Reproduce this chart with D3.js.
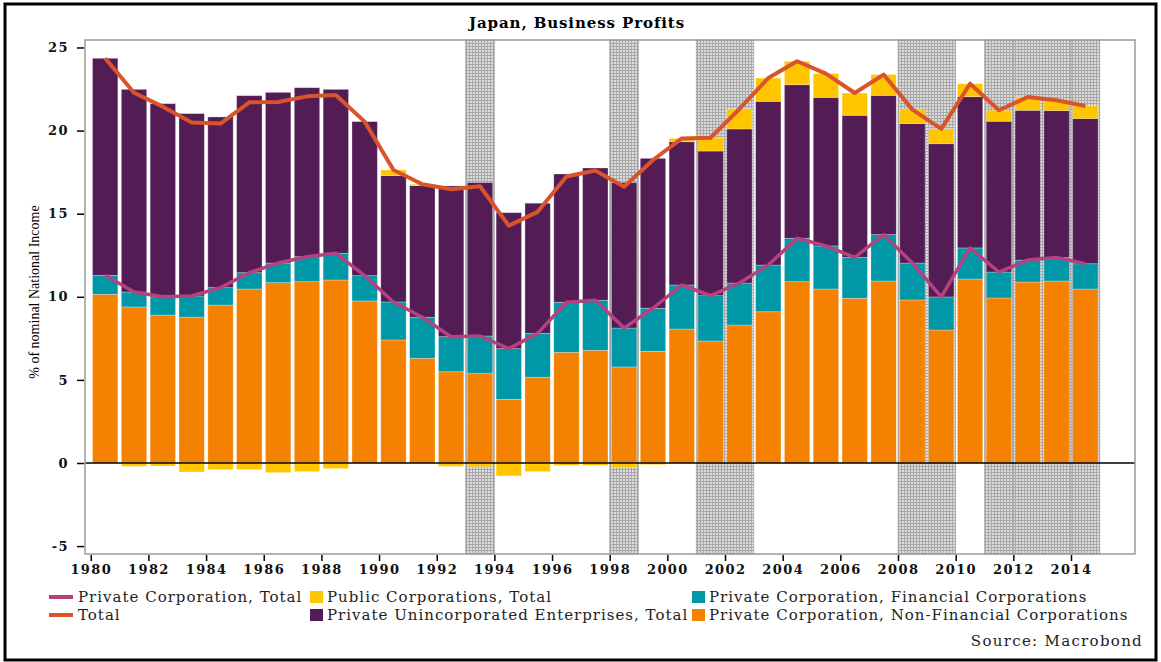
<!DOCTYPE html>
<html>
<head>
<meta charset="utf-8">
<script src="https://cdn.jsdelivr.net/npm/d3@7"></script>
<style>
  body { margin: 0; background: #fff; }
  text { font-family: 'DejaVu Serif', serif; }
</style>
</head>
<body>
<div id="chart"></div>
<script>
// values, % of nominal national income
let years = d3.range(1980, 2015)

let nonFinancial = [10.15, 9.39, 8.9, 8.78, 9.5, 10.47, 10.85, 10.91, 11.01, 9.75,
  7.4, 6.3, 5.49, 5.4, 3.83, 5.16, 6.66, 6.78, 5.78, 6.72,
  8.06, 7.34, 8.3, 9.1, 10.91, 10.47, 9.91, 10.95, 9.81, 8.0,
  11.07, 9.93, 10.89, 10.95, 10.47]
let financial = [1.14, 0.9, 1.1, 1.27, 1.05, 0.98, 1.18, 1.5, 1.61, 1.52,
  2.29, 2.47, 2.11, 2.24, 3.05, 2.64, 3.01, 3.01, 2.34, 2.59,
  2.65, 2.73, 2.53, 2.81, 2.61, 2.59, 2.46, 2.79, 2.22, 1.99,
  1.87, 1.56, 1.32, 1.42, 1.52]
let unincorporated = [13.06, 12.19, 11.62, 10.97, 10.27, 10.65, 10.27, 10.17, 9.86, 9.27,
  7.6, 7.92, 9.07, 9.23, 8.18, 7.83, 7.72, 7.96, 8.75, 9.02,
  8.62, 8.7, 9.27, 9.85, 9.24, 8.94, 8.55, 8.38, 8.39, 9.22,
  9.1, 9.07, 9.01, 8.83, 8.73]
let publicCorp = [0, -0.2, -0.18, -0.54, -0.4, -0.4, -0.58, -0.52, -0.34, 0,
  0.34, 0.08, -0.2, -0.22, -0.78, -0.52, -0.15, -0.15, -0.25, -0.1,
  0.2, 0.8, 1.2, 1.4, 1.41, 1.43, 1.34, 1.25, 0.84, 0.89,
  0.78, 0.66, 0.8, 0.62, 0.76]
let privateTotal = [11.29, 10.29, 10.0, 10.05, 10.55, 11.45, 12.03, 12.41, 12.62, 11.27,
  9.69, 8.77, 7.6, 7.64, 6.88, 7.8, 9.67, 9.79, 8.12, 9.31,
  10.71, 10.07, 10.83, 11.91, 13.52, 13.06, 12.37, 13.74, 12.03, 9.99,
  12.94, 11.49, 12.21, 12.37, 11.99]
let total = [24.35, 22.28, 21.44, 20.48, 20.42, 21.7, 21.72, 22.06, 22.14, 20.54,
  17.63, 16.77, 16.47, 16.65, 14.28, 15.11, 17.24, 17.6, 16.62, 18.23,
  19.53, 19.57, 21.3, 23.16, 24.17, 23.43, 22.26, 23.37, 21.26, 20.1,
  22.82, 21.22, 22.02, 21.82, 21.48]

// shaded periods
let bandStart = [1993, 1998, 2001, 2008, 2011, 2012, 2014]
let bandEnd = [1994, 1999, 2003, 2010, 2012, 2014, 2015]

let yTicks = [-5, 0, 5, 10, 15, 20, 25]
let xTicks = d3.range(1980, 2015, 2)

let seriesKeys = ["nonFin", "fin", "uninc", "pub"]
let seriesColor = {
  nonFin: "#F48200",
  fin: "#0097A7",
  uninc: "#541C55",
  pub: "#FFC600"
}

let rows = years.map(function (y, i) {
  return { year: y, nonFin: nonFinancial[i], fin: financial[i], uninc: unincorporated[i], pub: publicCorp[i] }
})

let W = 1161, H = 662
let margin = { top: 40, left: 85 },
  width = 1050,
  height = 514

let svg = d3.select("#chart")
  .append("svg")
  .attr("width", W)
  .attr("height", H)

// outer frame
svg.append("rect")
  .attr("x", 5).attr("y", 4)
  .attr("width", W - 10).attr("height", H - 6)
  .attr("fill", "none")
  .attr("stroke", "#000")
  .attr("stroke-width", 3)

svg.append("text")
  .attr("x", 577).attr("y", 28)
  .attr("text-anchor", "middle")
  .attr("font-weight", "bold")
  .attr("font-size", 15)
  .attr("letter-spacing", 0.9)
  .text("Japan, Business Profits")

let defs = svg.append("defs")
let pat = defs.append("pattern")
  .attr("id", "hatch")
  .attr("width", 3).attr("height", 3)
  .attr("patternUnits", "userSpaceOnUse")
pat.append("rect").attr("width", 3).attr("height", 3).attr("fill", "#dcdcdc")
pat.append("rect").attr("width", 3).attr("height", 1).attr("fill", "#a8a8a8")
pat.append("rect").attr("width", 1).attr("height", 3).attr("fill", "#a8a8a8")

let g = svg.append("g")
  .attr("transform", "translate(" + margin.left + "," + margin.top + ")")

let xScale = d3.scaleLinear()
  .domain([1979.8, 2016.22])
  .range([0, width])
let yScale = d3.scaleLinear()
  .domain([-5.475, 25.45])
  .range([height, 0])

// recession bands
g.selectAll(".band")
  .data(bandStart)
  .enter()
  .append("rect")
  .attr("class", "band")
  .attr("x", function (d) { return xScale(d) })
  .attr("width", function (d, i) { return xScale(bandEnd[i]) - xScale(d) })
  .attr("y", 0)
  .attr("height", height)
  .attr("fill", "url(#hatch)")
  .attr("stroke", "#9a9a9a")
  .attr("stroke-width", 0.6)

let stacked = d3.stack()
  .keys(seriesKeys)
  .offset(d3.stackOffsetDiverging)(rows)

let barW = xScale(1980.94) - xScale(1980.06)

g.selectAll(".series")
  .data(stacked)
  .enter()
  .append("g")
  .attr("class", "series")
  .attr("fill", function (d) { return seriesColor[d.key] })
  .selectAll("rect")
  .data(function (d) { return d })
  .enter()
  .append("rect")
  .attr("x", function (d) { return xScale(d.data.year + 0.06) })
  .attr("width", barW)
  .attr("y", function (d) { return yScale(Math.max(d[0], d[1])) })
  .attr("height", function (d) { return Math.abs(yScale(d[0]) - yScale(d[1])) })
  .attr("stroke", "#fff")
  .attr("stroke-opacity", 0.35)
  .attr("stroke-width", 0.8)

// zero line
g.append("line")
  .attr("x1", 0).attr("x2", width)
  .attr("y1", yScale(0)).attr("y2", yScale(0))
  .attr("stroke", "#000")
  .attr("stroke-width", 1.5)

let line = d3.line()
  .x(function (d, i) { return xScale(years[i] + 0.5) })
  .y(function (d) { return yScale(d) })

g.append("path")
  .datum(privateTotal)
  .attr("d", line)
  .attr("fill", "none")
  .attr("stroke", "#B5427E")
  .attr("stroke-width", 3.5)
  .attr("stroke-linejoin", "round")

g.append("path")
  .datum(total)
  .attr("d", line)
  .attr("fill", "none")
  .attr("stroke", "#D9542A")
  .attr("stroke-width", 4)
  .attr("stroke-linejoin", "round")

// plot frame
g.append("rect")
  .attr("width", width).attr("height", height)
  .attr("fill", "none")
  .attr("stroke", "#9a9a9a")
  .attr("stroke-width", 1.5)

let plainNum = function (d) { return String(d) }
let yAxis = d3.axisLeft(yScale).tickValues(yTicks).tickFormat(plainNum).tickSize(7).tickPadding(8)
let ya = g.append("g").attr("transform", "translate(-1,0)").call(yAxis)
let xAxis = d3.axisBottom(xScale).tickValues(xTicks).tickFormat(plainNum).tickSize(6).tickPadding(4)
let xa = g.append("g").attr("transform", "translate(0," + (height + 1) + ")").call(xAxis)

;[ya, xa].forEach(function (a) {
  a.select(".domain").remove()
  a.selectAll(".tick line").attr("stroke", "#000").attr("stroke-width", 1.5)
  a.selectAll(".tick text")
    .attr("font-family", "'DejaVu Serif', serif")
    .attr("font-weight", "bold")
    .attr("font-size", 13)
    .attr("letter-spacing", 1.4)
    .attr("fill", "#111")
})

svg.append("text")
  .attr("transform", "translate(39,292) rotate(-90)")
  .attr("text-anchor", "middle")
  .attr("font-size", 14)
  .style("font-family", "'Liberation Serif', serif")
  .text("% of nominal National Income")

// legend
let legendItems = [
  { label: "Private Corporation, Total", color: "#B5427E", type: "line", x: 49, y: 597 },
  { label: "Public Corporations, Total", color: seriesColor.pub, type: "box", x: 310, y: 597 },
  { label: "Private Corporation, Financial Corporations", color: seriesColor.fin, type: "box", x: 692, y: 597 },
  { label: "Total", color: "#D9542A", type: "line", x: 49, y: 615 },
  { label: "Private Unincorporated Enterprises, Total", color: seriesColor.uninc, type: "box", x: 310, y: 615 },
  { label: "Private Corporation, Non-Financial Corporations", color: seriesColor.nonFin, type: "box", x: 692, y: 615 }
]

let leg = svg.selectAll(".leg")
  .data(legendItems)
  .enter()
  .append("g")
  .attr("class", "leg")
  .attr("transform", function (d) { return "translate(" + d.x + "," + d.y + ")" })

leg.append("rect")
  .attr("x", 0)
  .attr("y", function (d) { return d.type == "line" ? -2 : -6 })
  .attr("width", function (d) { return d.type == "line" ? 24 : 13 })
  .attr("height", function (d) { return d.type == "line" ? 4 : 12 })
  .attr("fill", function (d) { return d.color })

leg.append("text")
  .attr("x", function (d) { return d.type == "line" ? 29 : 17 })
  .attr("y", 5)
  .attr("font-size", 15)
  .attr("letter-spacing", 1)
  .attr("fill", "#222")
  .text(function (d) { return d.label })

svg.append("text")
  .attr("x", 1143).attr("y", 646)
  .attr("text-anchor", "end")
  .attr("font-size", 15)
  .attr("letter-spacing", 1.3)
  .attr("fill", "#222")
  .text("Source: Macrobond")
</script>
</body>
</html>
